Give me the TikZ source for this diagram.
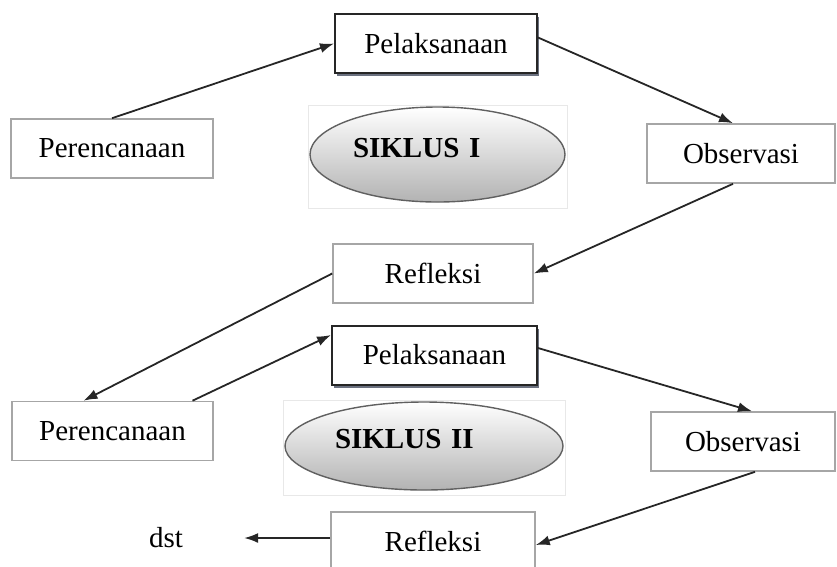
\documentclass[tikz,border=0pt]{standalone}
\usepackage{fontspec}
\setmainfont{Liberation Serif}
\usetikzlibrary{arrows.meta,shapes.geometric,shadows}
\definecolor{shadowblue}{RGB}{70,78,96}

\begin{document}
\begin{tikzpicture}[x=1pt, y=-1pt, font=\fontsize{29pt}{34pt}\selectfont,
  >={Latex[length=14pt,width=10pt]},
  stagebox/.style={draw=gray!70, line width=1.6pt, fill=white, minimum height=59pt, inner sep=0pt},
  actbox/.style={draw=black!85, line width=2pt, fill=white, minimum height=59pt, inner sep=0pt,
    drop shadow={shadow xshift=2pt, shadow yshift=-3pt, fill=shadowblue, opacity=0.8}},
  cycle/.style={ellipse, draw=gray!75!black, line width=1.4pt, top color=white, bottom color=gray!60,
    inner sep=0pt, align=left, text depth=14pt, font=\fontsize{29pt}{34pt}\selectfont\bfseries},
  cycleframe/.style={draw=gray!18, line width=0.8pt},
  flow/.style={->, line width=1.8pt, draw=black!85}]
%% 1 unit = 1 px of the 837 x 566 sheet, y grows downwards
\useasboundingbox (0,0) rectangle (837,566);

%% ---- Siklus I ----
\node[stagebox, minimum width=202pt] (per1) at (112,148.5) {Perencanaan};
\node[actbox,   minimum width=202pt] (pel1) at (436,43.5)  {Pelaksanaan};
\node[stagebox, minimum width=188pt] (obs1) at (741,153.5) {Observasi};
\node[stagebox, minimum width=200pt] (ref1) at (433,273.5) {Refleksi};

\draw[cycleframe] (308,105) rectangle (567,208);
\node[cycle, minimum width=255pt, minimum height=95pt, text width=169pt] (sik1) at (437.5,154.5) {SIKLUS I};

%% ---- Siklus II ----
\node[stagebox, minimum width=201pt] (per2) at (112.5,431) {Perencanaan};
\node[actbox,   minimum width=205pt] (pel2) at (434.5,355) {Pelaksanaan};
\node[stagebox, minimum width=184pt] (obs2) at (743,441.5) {Observasi};
\node[stagebox, minimum width=204pt] (ref2) at (433,541.5) {Refleksi};

\draw[cycleframe] (283,400) rectangle (565,495);
\node[cycle, minimum width=278pt, minimum height=88pt, text width=178pt] (sik2) at (424,446) {SIKLUS II};

\node[inner sep=0pt] (dst) at (166,538) {dst};

%% ---- Arrows ----
\draw[flow] (per1.north) -- (pel1.west);
\draw[flow] ([yshift=6pt]pel1.east) -- ([xshift=-8pt]obs1.north);
\draw[flow] ([xshift=-8pt]obs1.south) -- (ref1.east);
\draw[flow] (ref1.west) -- ([xshift=-29pt]per2.north);
\draw[flow] ([xshift=80pt]per2.north) -- ([yshift=20pt]pel2.west);
\draw[flow] ([yshift=7pt]pel2.east) -- ([xshift=9pt]obs2.north);
\draw[flow] ([xshift=12pt]obs2.south) -- ([yshift=-3.5pt]ref2.east);
\draw[flow, shorten >=61pt] ([yshift=3.5pt]ref2.west) -- (dst.east);
\end{tikzpicture}
\end{document}
